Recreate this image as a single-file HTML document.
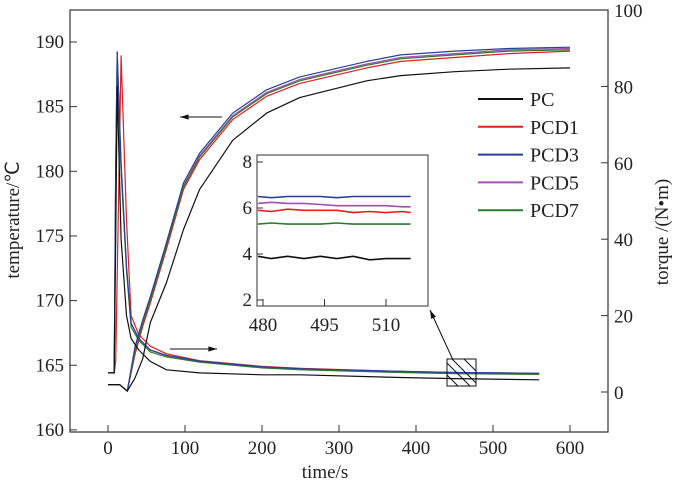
<!DOCTYPE html>
<html><head><meta charset="utf-8"><style>
body{margin:0;background:#fff}
svg{display:block}
svg text{font-family:"Liberation Serif",serif}
</style></head><body>
<svg id="chart" width="674" height="487" viewBox="0 0 674 487" xmlns="http://www.w3.org/2000/svg"></svg>
<script>
const legendNames=["PC","PCD1","PCD3","PCD5","PCD7"];
const colors=["#111","#e02020","#2a3f9a","#a050b0","#2a7a30"];
const tempTimes=[0,15,25,35,45,55,76,98,119,162,206,249,336,380,450,520,600];
const tempPC=[163.5,163.5,163,164,165.5,168.3,171.4,175.5,178.6,182.4,184.5,185.7,187,187.4,187.7,187.9,188];
const tempPCD1=[163.5,163.5,163,165.8,168,169.8,174,178.6,180.9,184,185.8,186.8,188,188.5,188.8,189.1,189.3];
const tempPCD3=[163.5,163.5,163,166.4,168.5,170.3,174.5,179.1,181.4,184.5,186.3,187.3,188.5,189,189.3,189.5,189.6];
const tempPCD5=[163.5,163.5,163,166.2,168.3,170.1,174.3,178.9,181.2,184.3,186.1,187.1,188.3,188.8,189.1,189.4,189.5];
const tempPCD7=[163.5,163.5,163,166,168.2,170,174.2,178.8,181.1,184.2,186,187,188.2,188.7,189,189.3,189.4];
const torqueTimes=[0,8,10,12,17,24,30,40,55,76,119,200,250,380,450,560];
const torquePC=[5,5,40,80,40,20,14,11,8,5.8,5,4.5,4.5,3.8,3.5,3.2];
const torquePCD1=[5,5,8,30,88,45,20,15,12,10,8.2,6.7,6.2,5.4,5.1,4.9];
const torquePCD3=[5,5,60,89,60,33,18,14,11,9.6,8.1,6.6,6.1,5.4,5.1,4.9];
const torquePCD5=[5,5,50,84,58,32,18,14,11,9.5,8,6.5,6,5.3,5,4.8];
const torquePCD7=[5,5,58,89,58,32,17,13.5,10.5,9.2,7.8,6.3,5.8,5.1,4.8,4.6];
const insetTimes=[478,482,486,490,494,498,502,506,510,514,516];
const insetPC=[3.9,3.8,3.9,3.8,3.9,3.8,3.9,3.75,3.8,3.8,3.8];
const insetPCD1=[5.9,5.85,5.95,5.9,5.9,5.9,5.8,5.85,5.8,5.85,5.8];
const insetPCD3=[6.5,6.45,6.5,6.5,6.5,6.45,6.5,6.5,6.5,6.5,6.5];
const insetPCD5=[6.2,6.25,6.2,6.2,6.15,6.1,6.1,6.1,6.1,6.05,6.05];
const insetPCD7=[5.3,5.35,5.3,5.3,5.3,5.35,5.3,5.3,5.3,5.3,5.3];
const xTicks=[0,100,200,300,400,500,600];
const yLTicks=[160,165,170,175,180,185,190];
const yRTicks=[0,20,40,60,80,100];
const insetXTicks=[480,495,510];
const insetYTicks=[2,4,6,8];

const NS="http://www.w3.org/2000/svg";
const svg=document.getElementById('chart');
const FF='"Liberation Serif", serif';
function el(t,a,p){const e=document.createElementNS(NS,t);for(const k in a)e.setAttribute(k,a[k]);if(t==='text')e.setAttribute('font-family',FF);(p||svg).appendChild(e);return e;}
const X=t=>108+t*0.77;
const YL=v=>42+(190-v)*12.93;
const YR=v=>392-v*3.82;
const IX=t=>263+(t-480)*4.1;
const IY=v=>162+(8-v)*23;
function path(xs,ys,fx,fy){return xs.map((x,i)=>(i?'L':'M')+fx(x).toFixed(1)+' '+fy(ys[i]).toFixed(1)).join(' ');}

let f=el('rect',{x:70,y:10,width:538,height:422,fill:'none',stroke:'#333','stroke-width':1.2});

xTicks.forEach(t=>{
 let l=el('line',{x1:X(t),x2:X(t),y1:432,y2:425,stroke:'#333'});
 
 let tx=el('text',{x:X(t),y:454,'font-size':19,'text-anchor':'middle',fill:'#222'});tx.textContent=t;
 
});
yLTicks.forEach(v=>{
 let l=el('line',{x1:70,x2:77,y1:YL(v),y2:YL(v),stroke:'#333'});
 
 let tx=el('text',{x:64,y:YL(v)+6,'font-size':19,'text-anchor':'end',fill:'#222'});tx.textContent=v;
 
});
yRTicks.forEach(v=>{
 let l=el('line',{x1:601,x2:608,y1:YR(v),y2:YR(v),stroke:'#333'});
 
 let tx=el('text',{x:614,y:YR(v)+7,'font-size':19,fill:'#222'});tx.textContent=v;
 
});
let t1=el('text',{x:0,y:0,'font-size':19,'text-anchor':'middle',fill:'#222',transform:'translate(19,220) rotate(-90)'});
t1.textContent='temperature/℃';
let t2=el('text',{x:0,y:0,'font-size':19,'text-anchor':'middle',fill:'#222',transform:'translate(668,232) rotate(-90)'});
t2.textContent='torque /(N•m)';
let t3=el('text',{x:325,y:478,'font-size':19,'text-anchor':'middle',fill:'#222'});
t3.textContent='time/s';

const temps=[tempPC,tempPCD1,tempPCD3,tempPCD5,tempPCD7];
const torques=[torquePC,torquePCD1,torquePCD3,torquePCD5,torquePCD7];
const insets=[insetPC,insetPCD1,insetPCD3,insetPCD5,insetPCD7];
[1,3,4,2,0].forEach(i=>{
 let p=el('path',{d:path(tempTimes,temps[i],X,YL),fill:'none',stroke:colors[i],'stroke-width':1.2,'stroke-linejoin':'round'});
 
 let q=el('path',{d:path(torqueTimes,torques[i],X,YR),fill:'none',stroke:colors[i],'stroke-width':1.2,'stroke-linejoin':'round'});
 
});
function arrow(x1,y1,x2,y2,name){
 let g=el('g',{});
 el('line',{x1,y1,x2,y2,stroke:'#111','stroke-width':1},g);
 const a=Math.atan2(y2-y1,x2-x1),L=9;
 el('path',{d:`M${x2} ${y2} L${x2-L*Math.cos(a-0.3)} ${y2-L*Math.sin(a-0.3)} L${x2-L*Math.cos(a+0.3)} ${y2-L*Math.sin(a+0.3)}Z`,fill:'#111'},g);
}
arrow(222,117,180,117,'temperature-arrow');
arrow(170,349,217,349,'torque-arrow');
arrow(453,360,430,310,'zoom-arrow');
let hb=el('g',{});
el('rect',{x:447,y:359,width:29,height:27,fill:'none',stroke:'#111'},hb);
[[447,363,470,386],[447,375,458,386],[452,359,476,383],[464,359,476,371]].forEach(c=>el('line',{x1:c[0],y1:c[1],x2:c[2],y2:c[3],stroke:'#111'},hb));

let ib=el('rect',{x:257,y:155,width:171,height:151,fill:'#fff',stroke:'#555','stroke-width':1.2});

insetYTicks.forEach(v=>{
 let l=el('line',{x1:257,x2:263,y1:IY(v),y2:IY(v),stroke:'#333'});
 let tx=el('text',{x:252,y:IY(v)+6,'font-size':19,'text-anchor':'end',fill:'#222'});tx.textContent=v;
 
});
insetXTicks.forEach(t=>{
 let l=el('line',{x1:IX(t),x2:IX(t),y1:306,y2:299,stroke:'#333'});
 let tx=el('text',{x:IX(t),y:331,'font-size':19,'text-anchor':'middle',fill:'#222'});tx.textContent=t;
 
});
[0,1,2,3,4].forEach(i=>{
 let p=el('path',{d:path(insetTimes,insets[i],t=>Math.min(428,Math.max(258,IX(t))),IY),fill:'none',stroke:colors[i],'stroke-width':1.6});
 
});
legendNames.forEach((n,i)=>{
 const y=99+i*27.8;
 let g=el('g',{});
 el('line',{x1:478,x2:523,y1:y,y2:y,stroke:colors[i],'stroke-width':2},g);
 let tx=el('text',{x:530,y:y+7,'font-size':20,fill:'#222'},g);tx.textContent=n;
});
</script>
</body></html>
